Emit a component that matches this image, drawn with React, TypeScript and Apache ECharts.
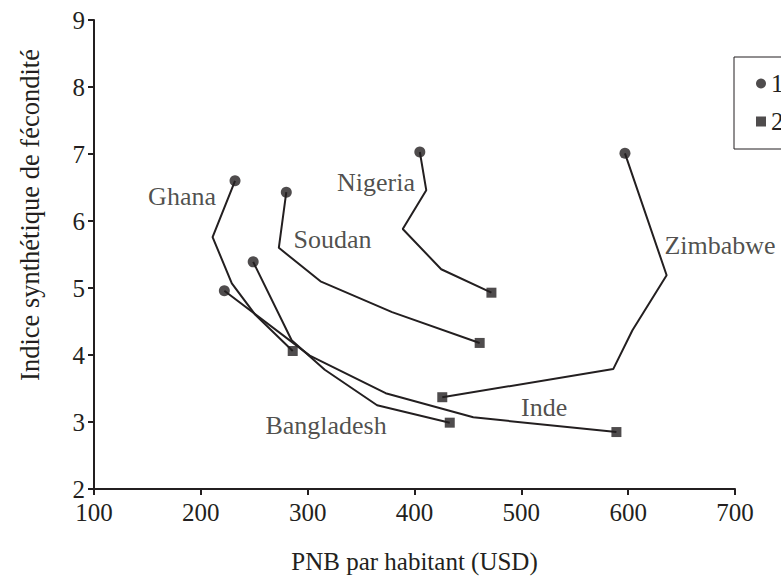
import React, { useEffect, useRef } from 'react';
import * as echarts from 'echarts';

// Legend entries (start year = dot, end year = square)
const legendYears = ['1960', '2000'];

// Countries and their trajectories (PNB par habitant, ISF)
const countryNames = ['Ghana', 'Soudan', 'Nigeria', 'Zimbabwe', 'Bangladesh', 'Inde'];
const ghanaX = [232, 211, 229, 251, 286];
const ghanaY = [6.6, 5.76, 5.07, 4.6, 4.06];
const soudanX = [280, 273, 312, 379, 461];
const soudanY = [6.43, 5.6, 5.1, 4.64, 4.18];
const nigeriaX = [405, 411, 389, 425, 472];
const nigeriaY = [7.03, 6.46, 5.88, 5.28, 4.93];
const zimbabweX = [597, 636, 604, 586, 426];
const zimbabweY = [7.01, 5.19, 4.37, 3.79, 3.37];
const bangladeshX = [249, 285, 316, 365, 433];
const bangladeshY = [5.39, 4.22, 3.78, 3.25, 2.99];
const indeX = [222, 302, 373, 455, 589];
const indeY = [4.96, 3.99, 3.43, 3.07, 2.85];

// Axis ranges
const xMin = 100, xMax = 700, xStep = 100;
const yMin = 2, yMax = 9, yStep = 1;

// Where each country name is written (data coordinates)
const labelX = [182.4, 323.3, 364, 686, 317.2, 521.3];
const labelY = [6.36, 5.72, 6.57, 5.63, 2.955, 3.21];

const INK = '#231f20';
const FONT = 'Liberation Serif';

export default function App() {
  const ref = useRef<HTMLDivElement>(null);
  useEffect(() => {
    if (!ref.current) return;
    const chart = echarts.init(ref.current, undefined, { renderer: 'svg' });
    const xs = [ghanaX, soudanX, nigeriaX, zimbabweX, bangladeshX, indeX];
    const ys = [ghanaY, soudanY, nigeriaY, zimbabweY, bangladeshY, indeY];
    const tracks = xs.map((arr, i) => arr.map((x, j) => [x, ys[i][j]]));

    const lineSeries = tracks.map((data, i) => ({
      name: countryNames[i],
      type: 'line',
      data,
      showSymbol: false,
      symbol: 'none',
      lineStyle: { color: INK, width: 2 },
      z: 2,
      silent: true,
    }));

    const option: any = {
      animation: false,
      backgroundColor: '#ffffff',
      textStyle: { fontFamily: FONT, color: INK },
      grid: { left: 94, right: 46, top: 20, bottom: 94, containLabel: false },
      legend: {
        data: legendYears,
        orient: 'vertical',
        left: 734,
        top: 57,
        padding: [14, 10, 15, 22],
        itemGap: 13,
        itemWidth: 10,
        itemHeight: 10,
        itemStyle: { color: INK },
        borderColor: INK,
        borderWidth: 1,
        borderRadius: 0,
        textStyle: { fontFamily: FONT, fontSize: 25, color: INK, lineHeight: 24 },
      },
      graphic: [
        {
          type: 'text',
          x: 30,
          y: 215,
          rotation: Math.PI / 2,
          style: {
            text: 'Indice synthétique de fécondité',
            fontFamily: FONT,
            fontSize: 26.5,
            fill: INK,
            align: 'center',
            verticalAlign: 'middle',
          },
        },
      ],
      xAxis: {
        type: 'value',
        min: xMin,
        max: xMax,
        interval: xStep,
        name: 'PNB par habitant (USD)',
        nameLocation: 'middle',
        nameGap: 60,
        nameTextStyle: { fontFamily: FONT, fontSize: 25, color: INK },
        axisLine: { show: true, lineStyle: { color: INK, width: 2 } },
        axisTick: { show: true, inside: false, length: 6, lineStyle: { color: INK, width: 2 } },
        axisLabel: { fontFamily: FONT, fontSize: 25, color: INK, margin: 11 },
        splitLine: { show: false },
      },
      yAxis: {
        type: 'value',
        min: yMin,
        max: yMax,
        interval: yStep,
        axisLine: { show: true, lineStyle: { color: INK, width: 2 } },
        axisTick: { show: true, inside: false, length: 6, lineStyle: { color: INK, width: 2 } },
        axisLabel: { fontFamily: FONT, fontSize: 25, color: INK, margin: 9 },
        splitLine: { show: false },
      },
      series: [
        ...lineSeries,
        {
          name: legendYears[0],
          type: 'scatter',
          symbol: 'circle',
          symbolSize: 11,
          itemStyle: { color: INK },
          data: tracks.map((t) => t[0]),
          z: 3,
        },
        {
          name: legendYears[1],
          type: 'scatter',
          symbol: 'rect',
          symbolSize: 10,
          itemStyle: { color: INK },
          data: tracks.map((t) => t[t.length - 1]),
          z: 3,
        },
        {
          name: 'labels',
          type: 'scatter',
          symbolSize: 0,
          silent: true,
          data: countryNames.map((n, i) => ({ name: n, value: [labelX[i], labelY[i]] })),
          label: {
            show: true,
            position: 'inside',
            formatter: '{b}',
            fontFamily: FONT,
            fontSize: 26,
            color: INK,
          },
          z: 4,
        },
      ],
    };
    chart.setOption(option);
    return () => chart.dispose();
  }, []);
  return (
    <div
      ref={ref}
      style={{ position: 'absolute', left: 0, top: 0, width: 781, height: 583, background: '#fff' }}
    />
  );
}
